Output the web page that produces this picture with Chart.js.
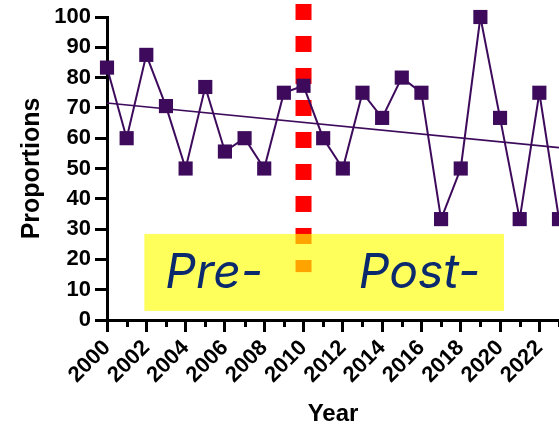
<!DOCTYPE html>
<html>
<head>
<meta charset="utf-8">
<script src="https://cdn.jsdelivr.net/npm/chart.js@4/dist/chart.umd.min.js"></script>
<style>
  html, body { margin: 0; padding: 0; background: #fff; }
  #wrap { width: 559px; height: 426px; }
</style>
</head>
<body>
<div id="wrap"><canvas id="c" width="559" height="426"></canvas></div>
<script>
// ---- data ----
const years = [2000,2001,2002,2003,2004,2005,2006,2007,2008,2009,2010,2011,2012,2013,2014,2015,2016,2017,2018,2019,2020,2021,2022,2023];
const proportions = [83.3,60,87.5,70.6,50,76.9,55.6,60,50,75,77.3,60,50,75,66.7,80,75,33.3,50,100,66.7,33.3,75,33.3];
const trendYears = [2000, 2023];
const trendValues = [71.6, 56.9];
const dividerYear = 2010;
const dividerRange = [104.3, 15.8];
const yTicks = [0,10,20,30,40,50,60,70,80,90,100];
const boxYears = [2001.9, 2020.2];
const boxValues = [3, 28.4];
const periodLabels = ['Pre-', 'Post-'];
const periodLabelYears = [2005.45, 2015.9];
const periodLabelValue = 15.2;

const PURPLE = '#3d0a5c';

const pts = (xs, ys) => xs.map((x, i) => ({x: x, y: ys[i]}));

const overlayPlugin = {
  id: 'overlay',
  afterDatasetsDraw(chart) {
    const {ctx, scales: {x, y}} = chart;
    ctx.save();
    const x0 = x.getPixelForValue(boxYears[0]), x1 = x.getPixelForValue(boxYears[1]);
    const y0 = y.getPixelForValue(boxValues[1]), y1 = y.getPixelForValue(boxValues[0]);
    ctx.fillStyle = 'rgba(255,255,0,0.64)';
    ctx.fillRect(x0, y0, x1 - x0, y1 - y0);
    ctx.fillStyle = '#0b2a6e';
    ctx.font = 'italic 48px Inter';
    ctx.textAlign = 'center';
    ctx.textBaseline = 'middle';
    periodLabels.forEach((t, i) => {
      ctx.fillText(t, x.getPixelForValue(periodLabelYears[i]), y.getPixelForValue(periodLabelValue));
    });
    ctx.restore();
  },
  afterDraw(chart) {
    const {ctx, scales: {x}} = chart;
    ctx.save();
    ctx.strokeStyle = '#000';
    ctx.lineWidth = 3;
    const b = x.top;
    years.forEach(yr => {
      if (yr % 2 === 1) {
        const px = Math.round(x.getPixelForValue(yr)) + 0.5;
        ctx.beginPath();
        ctx.moveTo(px, b);
        ctx.lineTo(px, b + 7);
        ctx.stroke();
      }
    });
    ctx.restore();
  }
};

new Chart(document.getElementById('c'), {
  type: 'line',
  data: {
    datasets: [
      {
        label: 'trend',
        data: pts(trendYears, trendValues),
        borderColor: PURPLE,
        borderWidth: 1.6,
        pointRadius: 0,
        clip: false
      },
      {
        label: 'Proportions',
        data: pts(years, proportions),
        borderColor: PURPLE,
        backgroundColor: PURPLE,
        borderWidth: 2,
        pointStyle: 'rect',
        pointRadius: 10,
        pointBorderWidth: 0,
        clip: false
      },
      {
        label: 'divider',
        data: pts([dividerYear, dividerYear], dividerRange),
        borderColor: '#ff0000',
        borderWidth: 16,
        borderDash: [16, 16],
        borderCapStyle: 'butt',
        pointRadius: 0,
        clip: false
      }
    ]
  },
  options: {
    responsive: false,
    animation: false,
    devicePixelRatio: 1,
    layout: { autoPadding: false, padding: { top: 17, right: 0, left: 0, bottom: 0 } },
    plugins: { legend: { display: false }, tooltip: { enabled: false } },
    scales: {
      x: {
        type: 'linear',
        min: 2000,
        max: 2023,
        afterFit(s) { s.height = 106; s.paddingLeft = 0; s.paddingRight = 0; },
        afterBuildTicks(s) { s.ticks = years.map(v => ({value: v})); },
        grid: {
          drawOnChartArea: false,
          tickLength: 12,
          tickWidth: 3,
          tickColor: c => (c.tick && c.tick.value % 2 === 1) ? 'rgba(0,0,0,0)' : '#000'
        },
        border: { display: true, color: '#000', width: 3 },
        ticks: {
          autoSkip: false,
          minRotation: 45,
          maxRotation: 45,
          padding: 3,
          color: '#000',
          font: { family: '"Liberation Sans", Arial', size: 22, weight: 'bold' },
          callback: v => (v % 2 === 0 ? String(v) : '')
        },
        title: {
          display: true,
          text: 'Year',
          color: '#000',
          padding: { top: 0, bottom: 0 },
          font: { family: '"Liberation Sans", Arial', size: 24, weight: 'bold', lineHeight: 1 }
        }
      },
      y: {
        min: 0,
        max: 100,
        afterFit(s) { s.width = 107; s.paddingTop = 0; s.paddingBottom = 0; },
        afterBuildTicks(s) { s.ticks = yTicks.map(v => ({value: v})); },
        grid: {
          drawOnChartArea: false,
          tickLength: 12,
          tickWidth: 3,
          tickColor: '#000'
        },
        border: { display: true, color: '#000', width: 3 },
        ticks: {
          padding: 4,
          color: '#000',
          font: { family: '"Liberation Sans", Arial', size: 22, weight: 'bold' }
        },
        title: {
          display: true,
          text: 'Proportions',
          color: '#000',
          padding: { top: 17, bottom: 0 },
          font: { family: '"Liberation Sans", Arial', size: 25, weight: 'bold' }
        }
      }
    }
  },
  plugins: [overlayPlugin]
});
</script>
</body>
</html>
